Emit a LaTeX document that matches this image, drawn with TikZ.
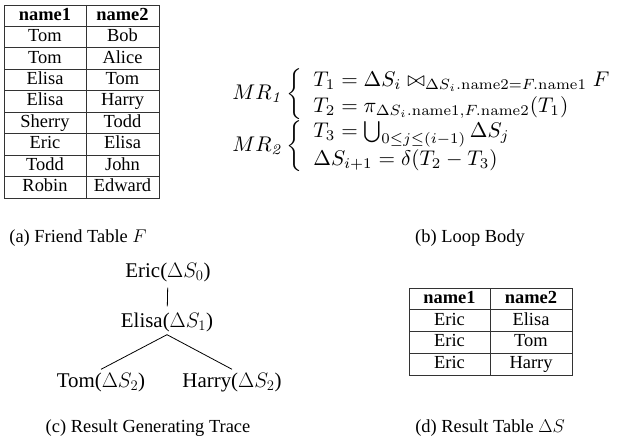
\documentclass[tikz,border=0pt]{standalone}
\usepackage{fix-cm}
\usepackage{amsmath}
\usepackage{amssymb}
\usepackage[no-math]{fontspec}
\setmainfont{Liberation Serif}
\usepackage{tikz}

\tikzset{
    cell/.style={font=\fontsize{18.5}{20}\selectfont, inner sep=0pt, text height=12.5bp, text depth=3.5bp},
    headcell/.style={cell, font=\fontsize{18.5}{20}\selectfont\bfseries},
    caption/.style={font=\fontsize{18.5}{20}\selectfont},
    tracenode/.style={font=\fontsize{21}{24}\selectfont, inner sep=3pt},
    eqn/.style={font=\fontsize{10}{12}\selectfont, inner sep=0pt, scale=2.13, transform shape},
    grid/.style={draw=black!80, line width=0.9bp},
    edge/.style={line width=0.8bp}
}

\begin{document}
\begin{tikzpicture}[x=1bp, y=-1bp]
    \useasboundingbox (0,0) rectangle (617,441);

    % Friend table F
    \draw[grid] (4,5) rectangle (159,198);
    \draw[grid] (86,5) -- (86,198);
    \foreach \r in {1,...,8} {
        \draw[grid] (4, 5+21.44*\r) -- (159, 5+21.44*\r);
    }
    \node[headcell] (fhead-a) at (45, 15.7) {name1};
    \node[headcell] (fhead-b) at (122.5, 15.7) {name2};
    \foreach \a/\b [count=\r] in {Tom/Bob, Tom/Alice, Elisa/Tom, Elisa/Harry, Sherry/Todd, Eric/Elisa, Todd/John, Robin/Edward} {
        \node[cell] (fa-\r) at (45, 15.7+21.44*\r) {\a};
        \node[cell] (fb-\r) at (122.5, 15.7+21.44*\r) {\b};
    }
    \node[caption] (capa) at (78, 238) {(a) Friend Table $F$};

    % Loop body
    \node[eqn, anchor=west] (loop) at (232, 121) {$\begin{array}{@{}l@{}}
        MR_{\mathit{1}}\left\{\begin{array}{l}
            T_1 = \Delta S_i \bowtie_{\Delta S_i.\mathrm{name2}=F.\mathrm{name1}} F\\
            T_2 = \pi_{\Delta S_i.\mathrm{name1},F.\mathrm{name2}}(T_1)
        \end{array}\right.\\
        MR_{\mathit{2}}\left\{\begin{array}{l}
            T_3 = \bigcup_{0\leq j\leq(i-1)} \Delta S_j\\
            \Delta S_{i+1} = \delta(T_2-T_3)
        \end{array}\right.
    \end{array}$};
    \node[caption] (capb) at (470, 238) {(b) Loop Body};

    % Result generating trace
    \node[tracenode] (eric) at (168, 272) {Eric($\Delta S_0$)};
    \node[tracenode] (elisa) at (167, 322) {Elisa($\Delta S_1$)};
    \node[tracenode] (tom) at (101, 382) {Tom($\Delta S_2$)};
    \node[tracenode] (harry) at (232, 382) {Harry($\Delta S_2$)};
    \draw[edge, shorten <=3bp, shorten >=3bp] (eric) -- (elisa);
    \draw[edge] (elisa.south) -- (tom.north);
    \draw[edge] (elisa.south) -- (harry.north);
    \node[caption] (capc) at (148, 428) {(c) Result Generating Trace};

    % Result table Delta S
    \draw[grid] (409,288) rectangle (572,375);
    \draw[grid] (490,288) -- (490,375);
    \foreach \r in {1,...,3} {
        \draw[grid] (409, 288+21.75*\r) -- (572, 288+21.75*\r);
    }
    \node[headcell] (dhead-a) at (449.5, 298.9) {name1};
    \node[headcell] (dhead-b) at (531, 298.9) {name2};
    \foreach \a/\b [count=\r] in {Eric/Elisa, Eric/Tom, Eric/Harry} {
        \node[cell] (da-\r) at (449.5, 298.9+21.75*\r) {\a};
        \node[cell] (db-\r) at (531, 298.9+21.75*\r) {\b};
    }
    \node[caption] (capd) at (490, 428) {(d) Result Table $\Delta S$};
\end{tikzpicture}
\end{document}
